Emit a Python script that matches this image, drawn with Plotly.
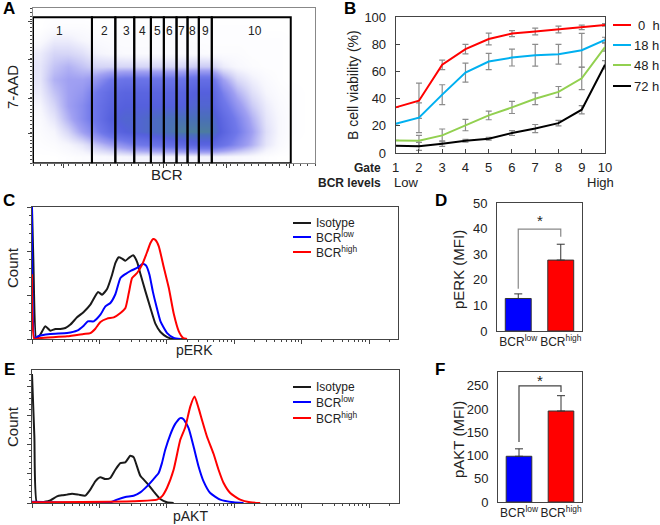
import plotly.graph_objects as go

FONT = "Arial, 'Liberation Sans', sans-serif"
W, H = 660, 525

# ---------------- Panel A : BCR vs 7-AAD dot plot (density) ----
gate_edges = [0, 20.9, 29.2, 35.9, 41.8, 46.4, 50.9, 54.8, 58.8, 63.4, 91.4]
gate_names = ["1", "2", "3", "4", "5", "6", "7", "8", "9", "10"]
gate_name_x = [9.5, 25.4, 33.1, 38.7, 44.0, 48.5, 52.8, 56.6, 61.0, 78.7]
gate_top = 94.2
dens_x = [2.5, 7.5, 12.5, 17.5, 22.5, 27.5, 32.5, 37.5, 42.5, 47.5,
          52.5, 57.5, 62.5, 67.5, 72.5, 77.5, 82.5, 87.5, 92.5, 97.5]
dens_y = [4.2, 12.5, 20.8, 29.2, 37.5, 45.8, 54.2, 62.5, 70.8, 79.2, 87.5, 95.8]
dens_z = [
    [0, 0, 0.1, 0.2, 0.3, 0.4, 0.5, 0.6, 0.6, 0.6, 0.6, 0.6, 0.6, 0.5, 0.4, 0.3, 0.1, 0, 0, 0],
    [0.1, 0.2, 0.5, 1, 2, 3, 4, 5, 5.5, 6, 6.5, 7, 7, 5.5, 4, 2.5, 1, 0.3, 0, 0],
    [0.2, 0.5, 1.5, 3, 4.5, 6.5, 7.5, 8, 8.5, 9, 9.5, 9.5, 9.5, 7, 5, 3, 1.2, 0.4, 0.1, 0],
    [0.3, 1, 2.5, 4, 5.5, 7.5, 8, 8, 8.5, 9, 9, 9, 9, 6.5, 4.5, 2.5, 1, 0.4, 0.1, 0],
    [0.5, 1.5, 3, 4, 5.5, 7, 7.5, 7.5, 7.5, 7.5, 7.5, 8, 8, 5.5, 3.5, 1.8, 0.8, 0.3, 0.1, 0],
    [0.8, 2, 3, 3.5, 5, 6.5, 7, 7, 7, 7, 7, 7.5, 7.5, 4.5, 2.5, 1.2, 0.5, 0.2, 0.1, 0],
    [1, 2.5, 3, 3, 3.5, 5, 5.5, 5.5, 5.5, 5.5, 5.5, 6, 6, 3, 1.4, 0.7, 0.3, 0.1, 0, 0],
    [1, 2, 2.5, 2, 1.5, 1.5, 1.5, 1.5, 1.5, 1.5, 1.5, 1.8, 1.8, 0.8, 0.4, 0.2, 0.1, 0.1, 0, 0],
    [0.8, 1.5, 1.5, 1.2, 0.6, 0.4, 0.3, 0.3, 0.3, 0.3, 0.3, 0.3, 0.2, 0.2, 0.2, 0.1, 0.1, 0.1, 0, 0],
    [0.3, 0.8, 0.8, 0.5, 0.3, 0.2, 0.2, 0.2, 0.2, 0.2, 0.2, 0.1, 0.1, 0.1, 0.1, 0.1, 0.1, 0.1, 0, 0],
    [0, 0.2, 0.2, 0.2, 0.1, 0.1, 0.1, 0.1, 0.1, 0.1, 0.1, 0.1, 0.1, 0.1, 0.1, 0.1, 0, 0, 0, 0],
    [0, 0, 0, 0, 0, 0, 0, 0, 0, 0, 0, 0, 0, 0, 0, 0, 0, 0, 0, 0],
]
a_xticks = [10.7, 46.2, 68.6, 91.1]
a_yticks = [19.4, 41.9, 66.7, 91.4]

# ---------------- Panel B : viability by gate ----------------
gates = [1, 2, 3, 4, 5, 6, 7, 8, 9, 10]
series_names = ["0  h", "18 h", "48 h", "72 h"]
via_0h = [33.6, 38.5, 65, 76.5, 84, 88, 89.5, 91, 92.6, 94.4]
err_0h = [0, 13, 3.5, 3.5, 4.3, 2.2, 2.5, 2.5, 1.7, 1]
via_18h = [21.6, 26, 43, 59.3, 67.4, 70.3, 72, 72.8, 75.7, 83.3]
err_18h = [0, 11, 7.3, 7, 6, 6.2, 8, 7.3, 12.5, 2]
via_48h = [9.3, 9, 13, 20.6, 27.7, 33.6, 40, 45, 55, 78]
err_48h = [0, 4, 4.7, 4.2, 3.2, 4.5, 4.3, 4, 8.3, 3]
via_72h = [5.4, 4.9, 6.9, 9, 10.5, 14.7, 18, 22, 31.9, 65]
err_72h = [0, 3, 2, 1, 1, 1.8, 3, 2, 3, 3]
b_colors = ["#ff0000", "#00b0f0", "#92d050", "#000000"]

# ---------------- Panel C : pERK histograms (log10 decades, % of axis height) ----
c_iso_x = [0, 0.02, 0.065, 0.124, 0.198, 0.272, 0.347, 0.42, 0.495, 0.57, 0.668, 0.767, 0.866,
           0.98, 1.04, 1.114, 1.188, 1.238, 1.287, 1.337, 1.386, 1.436, 1.5, 1.56, 1.609,
           1.683, 1.757, 1.832, 1.906, 2.005, 2.104, 2.3]
c_iso_y = [99, 60, 0, 3.3, 9.6, 6.3, 7.6, 7.6, 8.3, 10.9, 16.4, 20.5, 26,
           35.6, 33.6, 37.9, 48.7, 57.6, 61.9, 60.9, 59.3, 61.4, 63.4, 58.3, 49.2,
           36.1, 23.5, 11.4, 5.3, 1.5, 0, 0]
c_low_x = [0, 0.04, 0.084, 0.272, 0.52, 0.668, 0.767, 0.827, 0.916, 1.015, 1.089, 1.163, 1.238,
           1.312, 1.386, 1.47, 1.559, 1.644, 1.693, 1.743, 1.792, 1.842, 1.906, 2.005, 2.104, 2.2]
c_low_y = [100, 0, 2, 3.8, 4.5, 6.3, 10.1, 13.4, 13.4, 18.4, 24.7, 27.3, 34.1,
           46.2, 49.2, 51.8, 53.8, 57.1, 55.6, 48.7, 36.1, 25.5, 13.4, 4.5, 0.8, 0]
c_high_x = [0, 0.035, 0.124, 0.52, 0.767, 0.866, 0.94, 1.015, 1.114, 1.213, 1.312, 1.386, 1.436,
            1.485, 1.559, 1.634, 1.708, 1.757, 1.797, 1.832, 1.881, 1.955, 2.03, 2.104, 2.178,
            2.243, 2.3]
c_high_y = [49, 0, 0.8, 2, 3.8, 4.5, 7.8, 12.9, 15.4, 16.4, 19.7, 23.5, 34.8,
            46.2, 50, 56.3, 65.9, 72.7, 75.8, 75, 70.2, 54.3, 38.6, 18.9, 5.8, 0.8, 0]

# ---------------- Panel E : pAKT histograms ----------------
e_iso_x = [0, 0.035, 0.074, 0.173, 0.272, 0.37, 0.444, 0.519, 0.593, 0.691, 0.79, 0.864, 0.938,
           1.012, 1.086, 1.16, 1.235, 1.309, 1.383, 1.457, 1.506, 1.556, 1.605, 1.704, 1.802,
           1.901, 2.0, 2.1]
e_iso_y = [97, 50, 0, 0.8, 2, 5, 5.8, 6.3, 7, 6.3, 5.5, 10, 16.3,
           19.3, 18, 18.8, 25, 30, 30.5, 35.5, 34.5, 27.5, 20.5, 15, 8.8,
           3, 0.5, 0]
e_low_x = [0, 1.16, 1.26, 1.383, 1.506, 1.605, 1.704, 1.802, 1.877, 1.926, 1.975, 2.049, 2.123,
           2.198, 2.247, 2.321, 2.395, 2.469, 2.543, 2.642, 2.79, 2.988, 3.136]
e_low_y = [1, 0.5, 2.5, 4.5, 5.5, 8, 12.5, 18, 22.5, 30, 40, 51.3, 59.5,
           63.8, 63, 56.3, 42.5, 27.5, 16.3, 7.5, 2.5, 0.5, 0]
e_high_x = [0, 1.506, 1.852, 1.926, 2.0, 2.099, 2.198, 2.272, 2.346, 2.41, 2.469, 2.519, 2.593,
            2.691, 2.765, 2.84, 2.938, 3.086, 3.235, 3.383]
e_high_y = [0.5, 1.3, 2.5, 5, 11.3, 25, 47.5, 57, 72.5, 80, 71.3, 62.5, 50,
            37, 25, 15, 7.5, 2.5, 0.5, 0]
hist_names = ["Isotype", "BCR<sup>low</sup>", "BCR<sup>high</sup>"]
hist_colors = ["#1a1a1a", "#0000ff", "#ff0000"]

# ---------------- Panels D / F : MFI bars ----------------
bar_cats = ["BCR<sup>low</sup>", "BCR<sup>high</sup>"]
perk_mfi = [12.7, 27.7]
perk_err = [1.8, 6.2]
pakt_mfi = [98.5, 196]
pakt_err = [16, 33]
bar_colors = ["#0000ff", "#ff0000"]


def px(x):
    return x / W


def py(y):
    return 1 - y / H


fig = go.Figure()

# --- A
fig.add_trace(go.Heatmap(x=dens_x, y=dens_y, z=dens_z, zmin=0, zmax=10, zsmooth="best",
                         showscale=False, xaxis="x", yaxis="y", hoverinfo="skip",
                         colorscale=[[0, "#ffffff"], [0.05, "#f6f6fd"], [0.15, "#d6d6f7"],
                                     [0.3, "#a0a0f2"], [0.5, "#7078ea"], [0.75, "#5560dd"],
                                     [0.9, "#4a70b8"], [1, "#4f8a86"]]))

# --- B
for vals, errs, name, col in zip([via_0h, via_18h, via_48h, via_72h],
                                 [err_0h, err_18h, err_48h, err_72h],
                                 series_names, b_colors):
    fig.add_trace(go.Scatter(x=gates, y=vals, mode="lines", name=name,
                             line=dict(color=col, width=2), showlegend=False,
                             error_y=dict(type="data", array=errs, color="#8c8c8c",
                                          thickness=1.2, width=3),
                             xaxis="x2", yaxis="y2"))

# --- C
for xs, ys, col in zip([c_iso_x, c_low_x, c_high_x], [c_iso_y, c_low_y, c_high_y], hist_colors):
    fig.add_trace(go.Scatter(x=[10 ** v for v in xs], y=ys, mode="lines",
                             line=dict(color=col, width=2, shape="spline", smoothing=0.5),
                             showlegend=False, xaxis="x3", yaxis="y3"))

# --- E
for xs, ys, col in zip([e_iso_x, e_low_x, e_high_x], [e_iso_y, e_low_y, e_high_y], hist_colors):
    fig.add_trace(go.Scatter(x=[10 ** v for v in xs], y=ys, mode="lines",
                             line=dict(color=col, width=2, shape="spline", smoothing=0.5),
                             showlegend=False, xaxis="x5", yaxis="y5"))

# --- D, F
for vals, errs, xa, ya in [(perk_mfi, perk_err, "x4", "y4"), (pakt_mfi, pakt_err, "x6", "y6")]:
    fig.add_trace(go.Bar(x=bar_cats, y=vals, marker=dict(color=bar_colors,
                                                         line=dict(color="#333333", width=1)),
                         width=0.61, showlegend=False,
                         error_y=dict(type="data", symmetric=False, array=errs,
                                      arrayminus=[0, 0], color="#333333", thickness=1, width=4),
                         xaxis=xa, yaxis=ya))

axis_common = dict(showgrid=False, zeroline=False, showline=True, linecolor="#444444",
                   linewidth=1, mirror=True, automargin=False,
                   tickfont=dict(family=FONT, size=13, color="#222222"))

layout = dict(
    template="none",
    width=W, height=H, margin=dict(l=0, r=0, t=0, b=0, pad=0, autoexpand=False),
    paper_bgcolor="white", plot_bgcolor="white", showlegend=False,
    font=dict(family=FONT, color="#222222"),
    # A
    xaxis=dict(axis_common, domain=[px(33), px(315)], range=[0, 100], anchor="y",
               tickvals=a_xticks, showticklabels=False, ticks="outside", ticklen=4,
               linecolor="#888888", tickcolor="#444444",
               minor=dict(ticks="outside", ticklen=2, dtick=2.5, tickcolor="#444444")),
    yaxis=dict(axis_common, domain=[py(163.3), py(8.3)], range=[0, 100], anchor="x",
               tickvals=a_yticks, showticklabels=False, ticks="outside", ticklen=4,
               linecolor="#888888", tickcolor="#444444",
               minor=dict(ticks="outside", ticklen=2, dtick=2.5, tickcolor="#444444")),
    # B
    xaxis2=dict(axis_common, domain=[px(395.7), px(605)], range=[1, 10], anchor="y2",
                tickvals=gates, ticks="inside", ticklen=4, tickcolor="#444444",
                ticklabelstandoff=2),
    yaxis2=dict(axis_common, domain=[py(153), py(17.3)], range=[0, 100], anchor="x2",
                dtick=20, ticks="inside", ticklen=4, tickcolor="#444444",
                ticklabelstandoff=6),
    # C
    xaxis3=dict(axis_common, type="log", domain=[px(32), px(398)], range=[0, 5.43],
                anchor="y3", dtick=1, showticklabels=False, ticks="outside", ticklen=4,
                tickcolor="#444444",
                minor=dict(ticks="outside", ticklen=2, dtick="D1", tickcolor="#444444")),
    yaxis3=dict(axis_common, domain=[py(339), py(207)], range=[0, 100], anchor="x3",
                tick0=0, dtick=33.333, showticklabels=False, ticks="outside", ticklen=4,
                tickcolor="#444444",
                minor=dict(ticks="outside", ticklen=2, dtick=33.333 / 5, tickcolor="#444444")),
    # D
    xaxis4=dict(axis_common, domain=[px(497), px(582)], anchor="y4", ticks="", tickangle=0,
                tickfont=dict(family=FONT, size=12, color="#222222")),
    yaxis4=dict(axis_common, domain=[py(331), py(203)], range=[0, 50], anchor="x4",
                dtick=10, ticks="", ticklabelstandoff=6),
    # E
    xaxis5=dict(axis_common, type="log", domain=[px(32), px(399)], range=[0, 5.44],
                anchor="y5", dtick=1, showticklabels=False, ticks="outside", ticklen=4,
                tickcolor="#444444",
                minor=dict(ticks="outside", ticklen=2, dtick="D1", tickcolor="#444444")),
    yaxis5=dict(axis_common, domain=[py(503), py(370)], range=[0, 100], anchor="x5",
                tick0=0, dtick=21.875, showticklabels=False, ticks="outside", ticklen=4,
                tickcolor="#444444",
                minor=dict(ticks="outside", ticklen=2, dtick=21.875 / 5, tickcolor="#444444")),
    # F
    xaxis6=dict(axis_common, domain=[px(498), px(582)], anchor="y6", ticks="", tickangle=0,
                tickfont=dict(family=FONT, size=12, color="#222222")),
    yaxis6=dict(axis_common, domain=[py(502), py(372)], range=[0, 280], anchor="x6",
                dtick=50, ticks="", ticklabelstandoff=6),
)
fig.update_layout(**layout)

shapes = []
annotations = []

# A gates
for i in range(len(gate_edges) - 1):
    shapes.append(dict(type="rect", xref="x", yref="y", x0=gate_edges[i], x1=gate_edges[i + 1],
                       y0=0, y1=gate_top, line=dict(color="black", width=2)))
for name, gx in zip(gate_names, gate_name_x):
    annotations.append(dict(xref="x", yref="y", x=gx, y=85.6, text=name, showarrow=False,
                            font=dict(family=FONT, size=12, color="#222222")))

# B legend
leg_y = [25, 45, 65, 86]
leg_tx = [636, 632, 632, 632]
for name, col, ly, tx in zip(series_names, b_colors, leg_y, leg_tx):
    shapes.append(dict(type="line", xref="paper", yref="paper", x0=px(613), x1=px(631),
                       y0=py(ly), y1=py(ly), line=dict(color=col, width=2)))
    annotations.append(dict(xref="paper", yref="paper", x=px(tx), y=py(ly), text=name,
                            showarrow=False, xanchor="left", yanchor="middle",
                            font=dict(family=FONT, size=13, color="#222222")))

# C / E legends
for top_ys in ([223, 237, 252], [387, 402, 418]):
    for name, col, ly in zip(hist_names, hist_colors, top_ys):
        shapes.append(dict(type="line", xref="paper", yref="paper", x0=px(293), x1=px(311),
                           y0=py(ly), y1=py(ly), line=dict(color=col, width=2)))
        annotations.append(dict(xref="paper", yref="paper", x=px(314), y=py(ly), text=name,
                                showarrow=False, xanchor="left", yanchor="middle",
                                font=dict(family=FONT, size=12, color="#222222")))

# D / F significance brackets
for xa, ya, yb, yl, yr, ys, col in [("x4", "y4", 39.8, 16.5, 36.8, 43.0, "#888888"),
                                    ("x6", "y6", 250, 129, 237, 262, "#444444")]:
    shapes.append(dict(type="path", xref=xa, yref=ya,
                       path=f"M 0 {yl} L 0 {yb} L 1 {yb} L 1 {yr}",
                       line=dict(color=col, width=1.2)))
    annotations.append(dict(xref=xa, yref=ya, x=0.5, y=ys, text="*", showarrow=False,
                            font=dict(family=FONT, size=15, color="#222222")))

# panel letters
for letter, lx, ly in [("A", 9, 9), ("B", 350, 8), ("C", 9, 200), ("D", 441, 201),
                       ("E", 9, 369), ("F", 440, 369)]:
    annotations.append(dict(xref="paper", yref="paper", x=px(lx), y=py(ly),
                            text=f"<b>{letter}</b>", showarrow=False,
                            xanchor="center", yanchor="middle",
                            font=dict(family=FONT, size=17, color="black")))


def lab(text, x, y, size=14, angle=0, anchor="center", bold=False):
    annotations.append(dict(xref="paper", yref="paper", x=px(x), y=py(y),
                            text=f"<b>{text}</b>" if bold else text, showarrow=False,
                            textangle=angle, xanchor=anchor, yanchor="middle",
                            font=dict(family=FONT, size=size, color="#222222")))


lab("7-AAD", 12, 87, 15, -90)
lab("BCR", 167, 174, 15)
lab("B cell viability (%)", 353, 85, 14, -90)
lab("Gate", 383, 168, 12, 0, "right", True)
lab("BCR levels", 383, 183, 12, 0, "right", True)
lab("Low", 406, 183, 13)
lab("High", 600, 183, 13)
lab("Count", 12, 268, 15, -90)
lab("pERK", 194, 350, 14)
lab("pERK (MFI)", 458, 270, 15, -90)
lab("Count", 12, 427, 15, -90)
lab("pAKT", 190, 516, 14)
lab("pAKT (MFI)", 458, 440, 15, -90)

fig.update_layout(shapes=shapes, annotations=annotations)
fig.write_html("out.html", config={"displayModeBar": False},
               post_script="document.body.style.margin='0';"
                           "document.body.style.overflow='hidden';")
